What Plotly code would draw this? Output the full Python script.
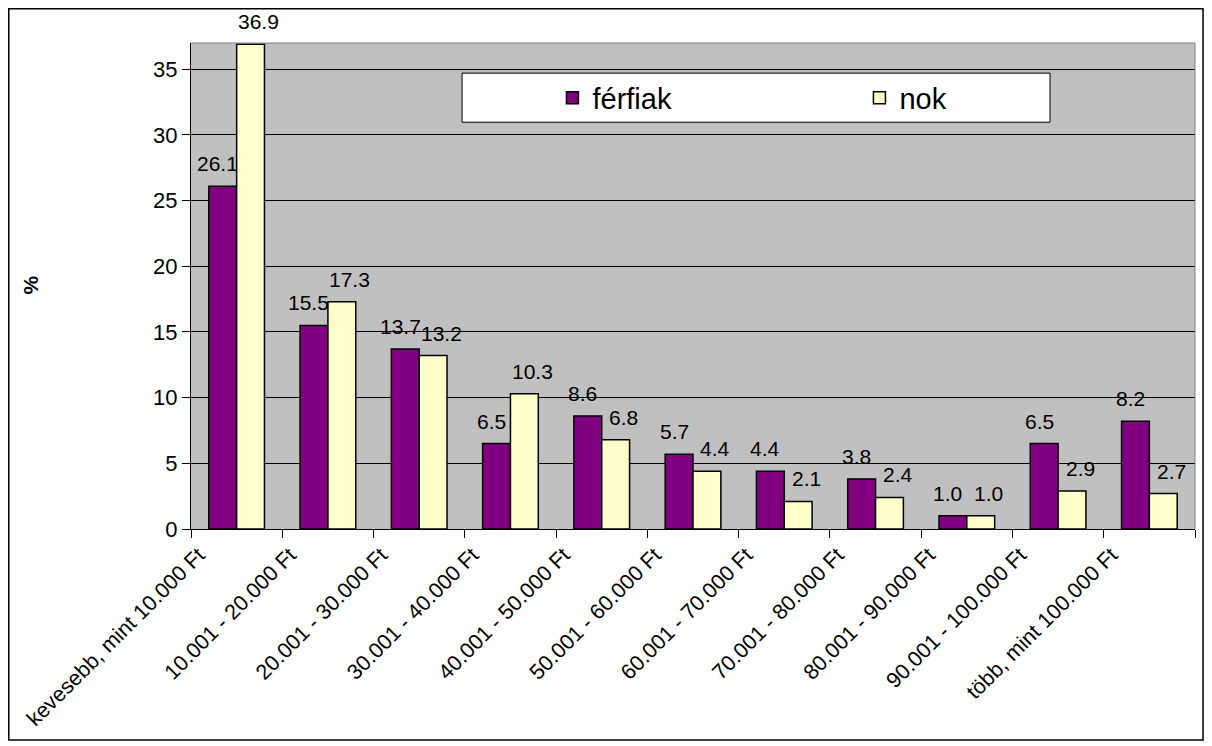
import plotly.graph_objects as go

categories = ["kevesebb, mint 10.000 Ft", "10.001 - 20.000 Ft", "20.001 - 30.000 Ft",
              "30.001 - 40.000 Ft", "40.001 - 50.000 Ft", "50.001 - 60.000 Ft",
              "60.001 - 70.000 Ft", "70.001 - 80.000 Ft", "80.001 - 90.000 Ft",
              "90.001 - 100.000 Ft", "több, mint 100.000 Ft"]
ferfiak = [26.1, 15.5, 13.7, 6.5, 8.6, 5.7, 4.4, 3.8, 1.0, 6.5, 8.2]
nok = [36.9, 17.3, 13.2, 10.3, 6.8, 4.4, 2.1, 2.4, 1.0, 2.9, 2.7]
y_ticks = [0, 5, 10, 15, 20, 25, 30, 35]

FONT = "Liberation Sans, Arial, sans-serif"
series = [("férfiak", ferfiak, "#800080", -19), ("nok", nok, "#FFFFCC", 22)]

fig = go.Figure()
annotations = []
for name, vals, color, shift in series:
    fig.add_trace(go.Bar(
        x=categories, y=vals, name=name,
        marker=dict(color=color, line=dict(color="black", width=1.5)),
        cliponaxis=False,
    ))
    for c, v in zip(categories, vals):
        annotations.append(dict(x=c, y=v, xref="x", yref="y", text=f"{v:.1f}",
                                showarrow=False, xanchor="center", yanchor="bottom",
                                xshift=shift, yshift=9,
                                font=dict(size=21, family=FONT, color="black")))

annotations.append(dict(text="<b>%</b>", xref="paper", yref="paper", x=-0.160, y=0.502,
                        xanchor="center", yanchor="middle", textangle=-90, showarrow=False,
                        font=dict(size=21, family=FONT)))

fig.update_layout(
    width=1212, height=746,
    margin=dict(l=183, r=25, t=35, b=225, autoexpand=False),
    paper_bgcolor="white", plot_bgcolor="#C0C0C0",
    barmode="group", bargap=0.39, bargroupgap=0,
    font=dict(family=FONT, color="black"),
    showlegend=True,
    legend=dict(orientation="h", x=0.360, y=0.887, xanchor="left", yanchor="middle",
                bgcolor="rgba(0,0,0,0)", font=dict(size=29, family=FONT),
                entrywidth=262, entrywidthmode="pixels"),
    xaxis=dict(tickangle=-45, tickson="boundaries", ticks="outside", ticklen=8,
               tickcolor="black", showline=True, linecolor="black", linewidth=1,
               tickfont=dict(size=21.5, family=FONT), showgrid=False, automargin=False,
               ticklabelshift=-38, ticklabelstandoff=4),
    yaxis=dict(range=[0, 37], tickvals=y_ticks, ticks="outside", ticklen=8,
               tickcolor="black", showline=True, linecolor="black",
               showgrid=True, gridcolor="black", gridwidth=1,
               tickfont=dict(size=22, family=FONT), zeroline=False, automargin=False),
    annotations=annotations,
    shapes=[
        dict(type="rect", xref="paper", yref="paper", x0=-0.1815, x1=1.008, y0=-0.434, y1=1.0705,
             line=dict(color="black", width=1.5), fillcolor="rgba(0,0,0,0)", layer="below"),
        dict(type="rect", xref="paper", yref="paper", x0=0.27, x1=0.8556, y0=0.837, y1=0.938,
             line=dict(color="black", width=1), fillcolor="white", layer="above"),
        dict(type="line", xref="paper", yref="paper", x0=1, x1=1, y0=0, y1=1,
             line=dict(color="#808080", width=1), layer="above"),
        dict(type="line", xref="paper", yref="paper", x0=0, x1=1, y0=1, y1=1,
             line=dict(color="#808080", width=1), layer="above"),
    ],
)

fig.write_html("out.html")
